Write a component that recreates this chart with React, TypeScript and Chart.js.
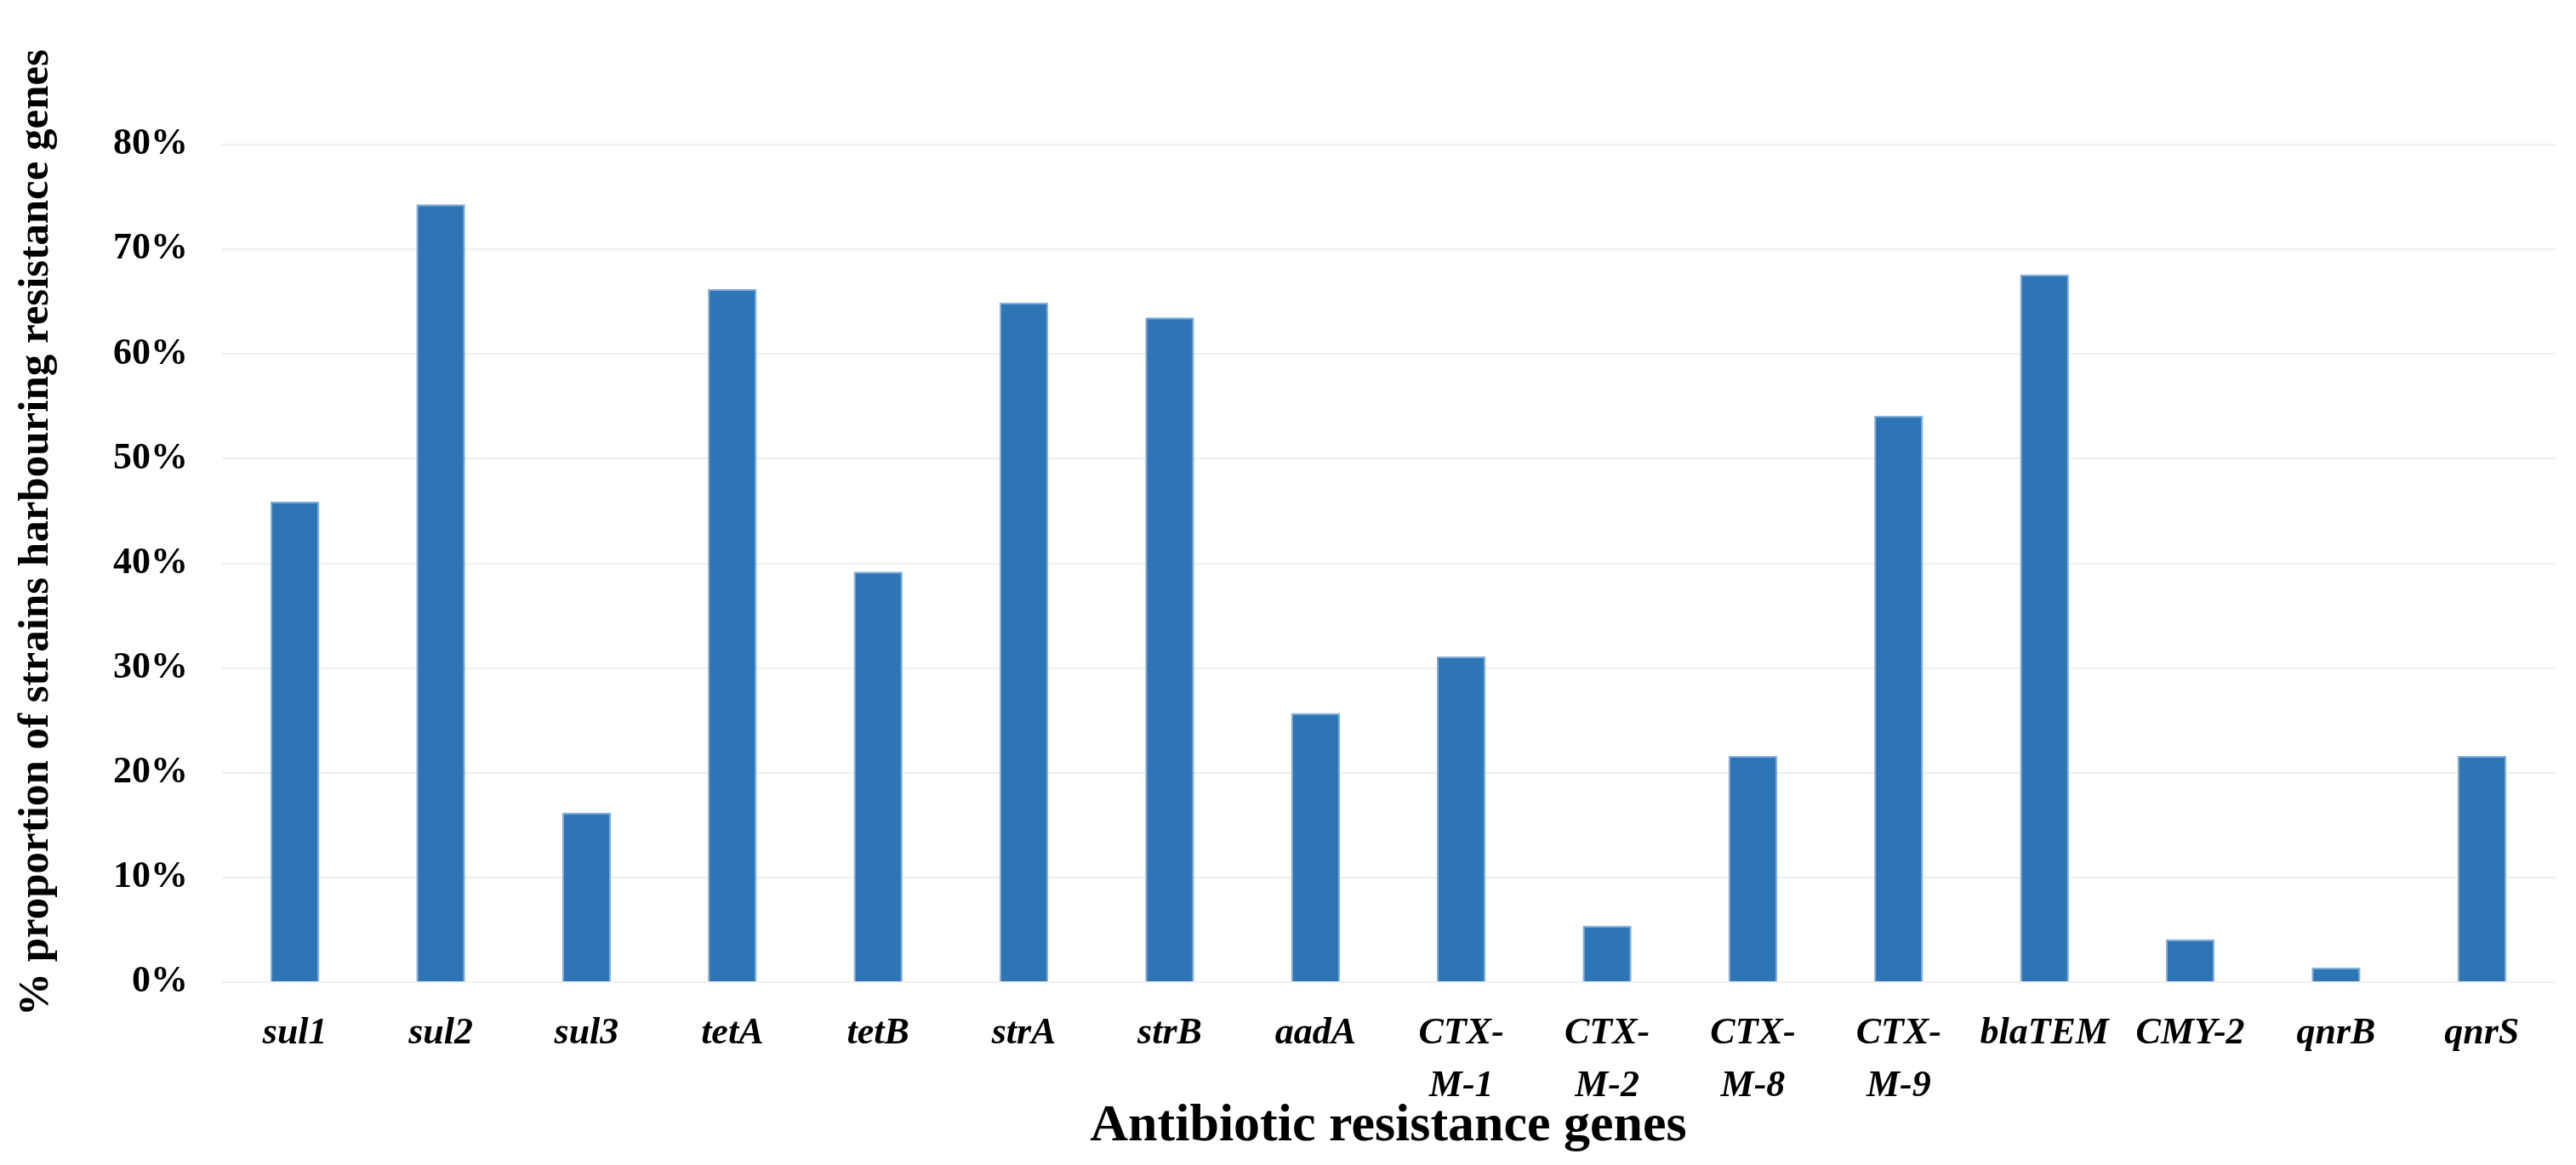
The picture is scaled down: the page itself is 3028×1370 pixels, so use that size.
import React, { useEffect, useRef } from "react";
import { Chart, registerables } from "chart.js";

Chart.register(...registerables);

const categories = [
  "sul1", "sul2", "sul3", "tetA", "tetB", "strA", "strB", "aadA",
  "CTX-M-1", "CTX-M-2", "CTX-M-8", "CTX-M-9", "blaTEM", "CMY-2", "qnrB", "qnrS",
];

const tickLabels: (string | string[])[] = [
  "sul1", "sul2", "sul3", "tetA", "tetB", "strA", "strB", "aadA",
  ["CTX-", "M-1"], ["CTX-", "M-2"], ["CTX-", "M-8"], ["CTX-", "M-9"],
  "blaTEM", "CMY-2", "qnrB", "qnrS",
];

const percentValues = [
  45.9, 74.3, 16.2, 66.2, 39.2, 64.9, 63.5, 25.7,
  31.1, 5.4, 21.6, 54.1, 67.6, 4.1, 1.4, 21.6,
];

const yTicks = [0, 10, 20, 30, 40, 50, 60, 70, 80];

const xTitle = "Antibiotic resistance genes";
const yTitle = "% proportion of strains harbouring resistance genes";

const serif = "'Liberation Serif', 'Times New Roman', serif";

const yTitlePlugin = {
  id: "yTitlePlugin",
  afterDraw(chart: any) {
    const { ctx, chartArea } = chart;
    ctx.save();
    ctx.translate(43, (chartArea.top + chartArea.bottom) / 2 - 36);
    ctx.rotate(-Math.PI / 2);
    ctx.font = `bold 51px ${serif}`;
    ctx.fillStyle = "#000";
    ctx.textAlign = "center";
    ctx.textBaseline = "middle";
    ctx.fillText(yTitle, 0, 0);
    ctx.restore();
  },
};

export default function App() {
  const canvasRef = useRef<HTMLCanvasElement | null>(null);

  useEffect(() => {
    if (!canvasRef.current) return;
    const chart = new Chart(canvasRef.current, {
      type: "bar",
      data: {
        labels: tickLabels as any,
        datasets: [
          {
            label: "proportion",
            data: percentValues,
            backgroundColor: "#2E75B6",
            borderColor: "rgba(120,165,215,0.9)",
            borderWidth: 2,
            barPercentage: 0.335,
            categoryPercentage: 1,
          },
        ],
      },
      options: {
        animation: false,
        responsive: true,
        maintainAspectRatio: false,
        devicePixelRatio: 1,
        layout: { padding: { left: 16, right: 25, top: 170, bottom: 8 } },
        plugins: {
          legend: { display: false },
          tooltip: { enabled: false },
          title: { display: false },
        },
        scales: {
          x: {
            grid: { display: false, drawTicks: false },
            border: { display: false },
            ticks: {
              autoSkip: false,
              maxRotation: 0,
              minRotation: 0,
              padding: 30,
              color: "#000",
              font: { family: serif, size: 44, weight: "bold", style: "italic", lineHeight: 1.4 },
            },
            title: {
              display: true,
              text: xTitle,
              color: "#000",
              padding: 0,
              font: { family: serif, size: 62, weight: "bold", lineHeight: 1.2 },
            },
            afterFit: (scale: any) => {
              scale.height = 1370 - 1155 - 8;
            },
          },
          y: {
            min: 0,
            max: 80,
            afterBuildTicks: (scale: any) => {
              scale.ticks = yTicks.map((v) => ({ value: v }));
            },
            grid: { color: "#EFEFEF", lineWidth: 2, drawTicks: false },
            border: { display: false },
            ticks: {
              padding: 40,
              color: "#000",
              font: { family: serif, size: 44, weight: "bold" },
              callback: (v: any) => `${v}%`,
            },
            title: { display: false },
            afterFit: (scale: any) => {
              scale.width = 261 - 16;
            },
          },
        },
      },
      plugins: [yTitlePlugin],
    });
    return () => chart.destroy();
  }, []);

  return (
    <div
      style={{
        position: "fixed",
        left: 0,
        top: 0,
        width: "3028px",
        height: "1370px",
        background: "#fff",
      }}
    >
      <canvas ref={canvasRef} />
    </div>
  );
}
